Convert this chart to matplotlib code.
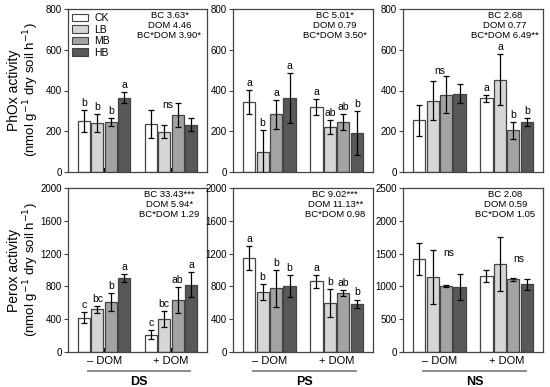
import matplotlib
matplotlib.use("Agg")
import matplotlib.pyplot as plt
from matplotlib.patches import Patch
import numpy as np

plt.rcParams['font.family'] = ['Liberation Sans', 'DejaVu Sans']

treatments = ['CK', 'LB', 'MB', 'HB']
bar_colors = ['#ffffff', '#d6d6d6', '#a3a3a3', '#585858']
groups = ['\u2013 DOM', '+ DOM']
soils = ['DS', 'PS', 'NS']

# PhOx activity (-DOM then +DOM, CK LB MB HB)
phox_mean = {
    'DS': [250, 240, 245, 365, 235, 198, 280, 233],
    'PS': [345, 100, 283, 362, 318, 222, 245, 190],
    'NS': [253, 350, 380, 385, 362, 452, 205, 245],
}
phox_err = {
    'DS': [52, 45, 18, 28, 70, 33, 57, 32],
    'PS': [58, 105, 70, 122, 40, 35, 40, 108],
    'NS': [75, 95, 90, 45, 16, 125, 42, 18],
}
phox_letters = {
    'DS': ['b', 'b', 'b', 'a', '', '', '', ''],
    'PS': ['a', 'b', 'a', 'a', 'a', 'ab', 'ab', 'b'],
    'NS': ['', '', '', '', 'a', 'a', 'b', 'b'],
}
phox_stats = {
    'DS': ['BC 3.63*', 'DOM 4.46', 'BC*DOM 3.90*'],
    'PS': ['BC 5.01*', 'DOM 0.79', 'BC*DOM 3.50*'],
    'NS': ['BC 2.68', 'DOM 0.77', 'BC*DOM 6.49**'],
}

# Perox activity
perox_mean = {
    'DS': [420, 520, 610, 900, 210, 400, 630, 820],
    'PS': [1150, 730, 775, 800, 860, 600, 720, 590],
    'NS': [1420, 1140, 1000, 990, 1160, 1340, 1110, 1030],
}
perox_err = {
    'DS': [65, 45, 110, 50, 55, 100, 160, 155],
    'PS': [145, 95, 225, 135, 75, 170, 35, 50],
    'NS': [245, 415, 15, 195, 95, 410, 25, 85],
}
perox_letters = {
    'DS': ['c', 'bc', 'b', 'a', 'c', 'bc', 'ab', 'a'],
    'PS': ['a', 'b', 'b', 'b', 'a', 'b', 'ab', 'b'],
    'NS': ['', '', '', '', '', '', '', ''],
}
perox_stats = {
    'DS': ['BC 33.43***', 'DOM 5.94*', 'BC*DOM 1.29'],
    'PS': ['BC 9.02***', 'DOM 11.13**', 'BC*DOM 0.98'],
    'NS': ['BC 2.08', 'DOM 0.59', 'BC*DOM 1.05'],
}

# extra "ns" labels: (soil, x, y)
phox_ns = [('DS', 6.3, 305), ('NS', 1.5, 470)]
perox_ns = [('NS', 2.2, 1510), ('NS', 7.4, 1420)]

xpos = np.array([0, 1, 2, 3, 5, 6, 7, 8])
W, H = 550, 387
fig = plt.figure(figsize=(W / 100, H / 100), dpi=100)

cols = [(68, 207), (233, 373), (403, 543)]
rows = [(9, 172), (188, 352)]

edge = '#444444'


def draw_panel(ax, mean, err, letters, stats, ymax, ystep, bottom_row):
    for i, x in enumerate(xpos):
        ax.bar(x, mean[i], width=0.9, color=bar_colors[i % 4], edgecolor=edge, linewidth=0.9, zorder=2)
        ax.errorbar(x, mean[i], yerr=err[i], color='black', capsize=2.5, elinewidth=0.9,
                    capthick=0.9, zorder=3)
        if letters[i]:
            ax.annotate(letters[i], (x, mean[i] + err[i]), xytext=(0, 1.5), textcoords='offset points',
                        ha='center', va='bottom', fontsize=7.5)
    ax.set_xlim(-1.2, 9.2)
    ax.set_ylim(0, ymax)
    ax.set_yticks(np.arange(0, ymax + 1, ystep))
    ax.set_xticks([1.5, 6.5])
    ax.tick_params(axis='x', direction='in', length=3, width=1.6, color='black', labelsize=8, pad=3)
    ax.tick_params(axis='y', direction='out', length=3, width=0.8, color=edge, labelsize=7, pad=1.5)
    if bottom_row:
        ax.set_xticklabels(groups)
    else:
        ax.set_xticklabels([])
    for s in ax.spines.values():
        s.set_color(edge)
        s.set_linewidth(0.9)
    ax.text(0.73, 0.985, '\n'.join(stats), transform=ax.transAxes, ha='center', va='top',
            fontsize=6.8, linespacing=1.12)


for r, (y0, y1) in enumerate(rows):
    for c, (x0, x1) in enumerate(cols):
        soil = soils[c]
        ax = fig.add_axes([x0 / W, 1 - y1 / H, (x1 - x0) / W, (y1 - y0) / H])
        if r == 0:
            draw_panel(ax, phox_mean[soil], phox_err[soil], phox_letters[soil], phox_stats[soil],
                       800, 200, False)
            for s, x, y in phox_ns:
                if s == soil:
                    ax.text(x, y, 'ns', ha='center', va='bottom', fontsize=7.5)
            if c == 0:
                handles = [Patch(facecolor=bar_colors[k], edgecolor=edge, linewidth=0.8) for k in range(4)]
                ax.legend(handles, treatments, loc='upper left', frameon=False, fontsize=7.5,
                          handlelength=1.5, handleheight=0.75, handletextpad=0.6, labelspacing=0.15,
                          borderaxespad=0.2, borderpad=0.2)
        else:
            ymax, ystep = (2500, 500) if soil == 'NS' else (2000, 400)
            draw_panel(ax, perox_mean[soil], perox_err[soil], perox_letters[soil], perox_stats[soil],
                       ymax, ystep, True)
            for s, x, y in perox_ns:
                if s == soil:
                    ax.text(x, y, 'ns', ha='center', va='center', fontsize=7.5)
            ax.plot([0.145, 0.875], [-0.116, -0.116], transform=ax.transAxes, color='#8c8c8c',
                    linewidth=1.4, clip_on=False)
            ax.text(0.51, -0.18, soil, transform=ax.transAxes, ha='center', va='center',
                    fontsize=9, fontweight='bold')

fig.text(14 / W, 1 - 90 / H, 'PhOx activity', rotation=90, ha='center', va='center', fontsize=10)
fig.text(31 / W, 1 - 90 / H, '(nmol g$^{-1}$ dry soil h$^{-1}$)', rotation=90, ha='center',
         va='center', fontsize=9.5)
fig.text(14 / W, 1 - 270 / H, 'Perox activity', rotation=90, ha='center', va='center', fontsize=10)
fig.text(31 / W, 1 - 270 / H, '(nmol g$^{-1}$ dry soil h$^{-1}$)', rotation=90, ha='center',
         va='center', fontsize=9.5)

fig.savefig('out.png', dpi=100)
